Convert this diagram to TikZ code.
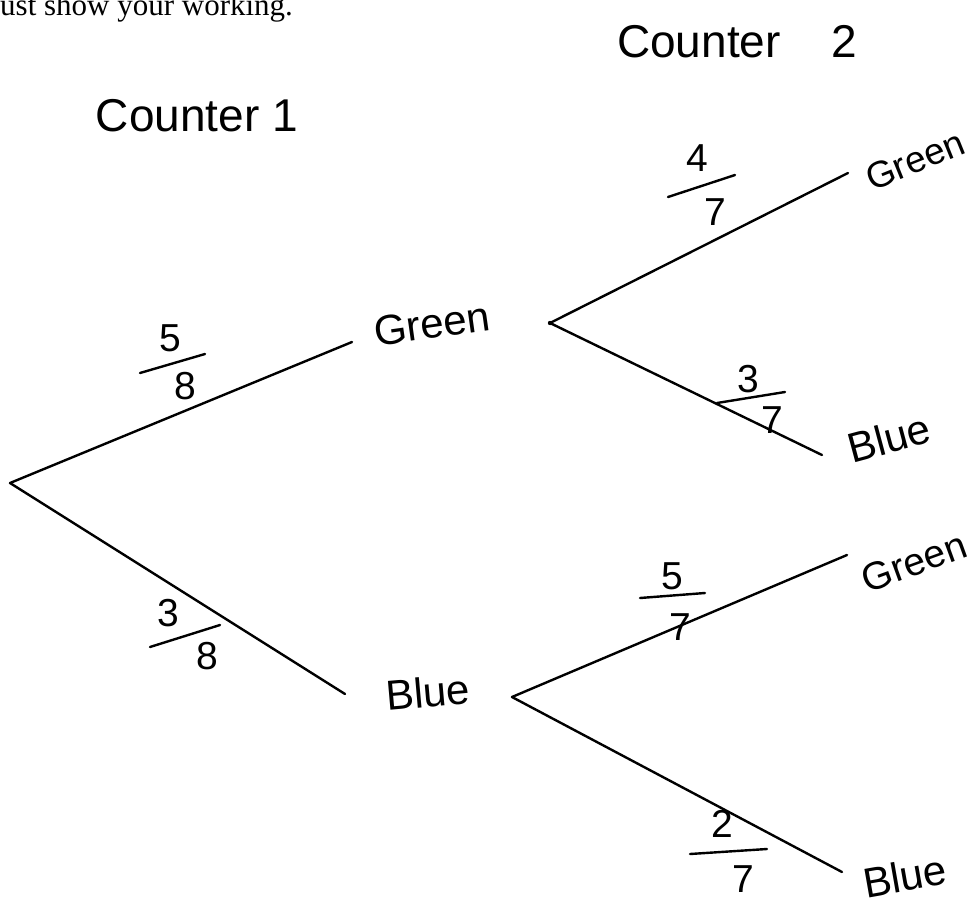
\documentclass[tikz,border=0pt]{standalone}
\usepackage{fontspec}
\setmainfont{Liberation Serif}
\newfontfamily\handfont{Liberation Sans}
\usetikzlibrary{positioning}

\begin{document}
\begin{tikzpicture}[
x=1pt, y=-1pt,
every node/.style={inner sep=0pt},
branch/.style={line width=2.4pt, line cap=round},
fracbar/.style={line width=2.4pt, line cap=round},
hand/.style={font=\handfont\fontsize{42}{44}\selectfont},
title/.style={font=\handfont\fontsize{46}{48}\selectfont},
digit/.style={font=\handfont\fontsize{39}{40}\selectfont}
]
\useasboundingbox (0,0) rectangle (977,905);
% heading line, cut off at the top
\node[anchor=base west, font=\fontsize{31}{36}\selectfont] (task) at (0,15) {ust show your working.};
\node[title] (counterone) at (197,116) {Counter 1};
\node[title] (countertwo) at (737,42) {Counter\hspace{1.1em}2};

% first counter
\coordinate (root) at (10,483);
\coordinate (greenend) at (352,342);
\coordinate (blueend) at (345,694);
\node[hand, rotate=8] (green) at (432,324) {Green};
\node[hand, rotate=5] (blue) at (428,692) {Blue};
\coordinate (greenfork) at (550,323);
\coordinate (bluefork) at (512,697);
\draw[branch] (root) -- (greenend);
\draw[branch] (root) -- (blueend);
\fill (greenfork) circle (2.2pt);

% second counter
\coordinate (gg) at (848,173);
\coordinate (gb) at (822,455);
\coordinate (bg) at (847,555);
\coordinate (bb) at (842,872);
\node[hand, rotate=22, font=\handfont\fontsize{37}{38}\selectfont] (greengreen) at (915,160) {Green};
\node[hand, rotate=15] (greenblue) at (889,438) {Blue};
\node[hand, rotate=20, font=\handfont\fontsize{39}{40}\selectfont] (bluegreen) at (914,562) {Green};
\node[hand, rotate=10] (blueblue) at (905,876) {Blue};
\draw[branch] (greenfork) -- (gg);
\draw[branch] (greenfork) -- (gb);
\draw[branch] (bluefork) -- (bg);
\draw[branch] (bluefork) -- (bb);

% probabilities
\node[digit] (fiveeight) at (170,338) {5};
\node[digit] (fiveeightd) at (185,386) {8};
\draw[fracbar] (140,373) -- (205,354);
\node[digit] (threeeight) at (168,613) {3};
\node[digit] (threeeightd) at (207,656) {8};
\draw[fracbar] (150,647) -- (220,625);
\node[digit] (fourseven) at (697,158) {4};
\node[digit] (foursevend) at (715,212) {7};
\draw[fracbar] (668,197) -- (735,175);
\node[digit] (threeseven) at (748,379) {3};
\node[digit] (threesevend) at (772,420) {7};
\draw[fracbar] (717,403) -- (785,392);
\node[digit] (fiveseven) at (672,576) {5};
\node[digit] (fivesevend) at (680,627) {7};
\draw[fracbar] (640,598) -- (705,593);
\node[digit] (twoseven) at (722,824) {2};
\node[digit] (twosevend) at (743,879) {7};
\draw[fracbar] (690,854) -- (767,849);
\end{tikzpicture}
\end{document}
